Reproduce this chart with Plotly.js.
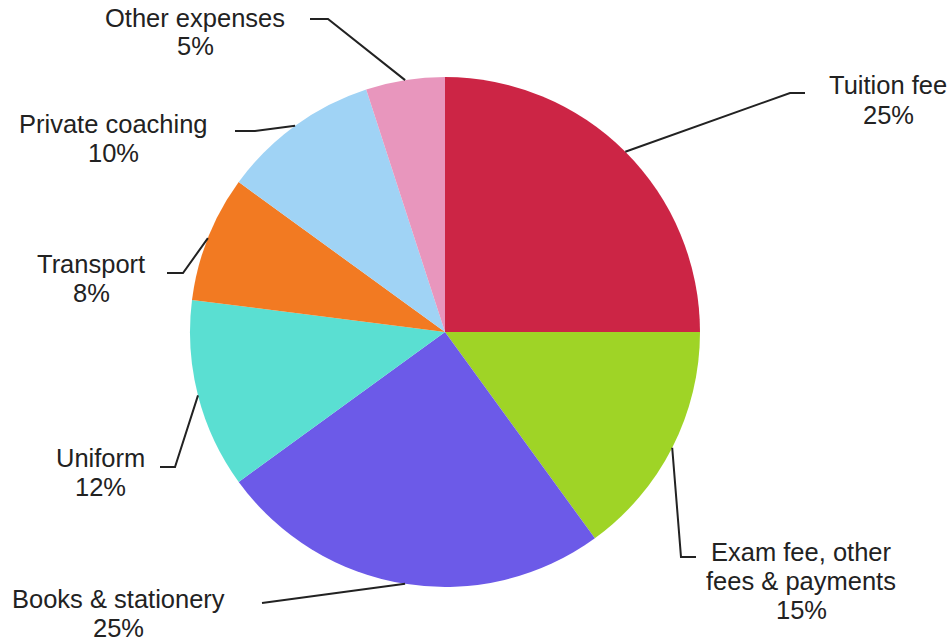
<!DOCTYPE html>
<html>
<head>
<meta charset="utf-8">
<script src="https://cdn.plot.ly/plotly-3.0.1.min.js"></script>
<style>html,body{margin:0;padding:0;background:#fff;}#chart{width:952px;height:640px;}</style>
</head>
<body>
<div id="chart"></div>
<script>
// Data
const categories = ["Tuition fee", "Exam fee, other fees & payments", "Books & stationery", "Uniform", "Transport", "Private coaching", "Other expenses"];
const labelLines = [["Tuition fee"], ["Exam fee, other", "fees & payments"], ["Books & stationery"], ["Uniform"], ["Transport"], ["Private coaching"], ["Other expenses"]];
const shares = [25, 15, 25, 12, 8, 10, 5];
const colors = ["#CC2545", "#9FD426", "#6C5AE8", "#5ADFD2", "#F27A22", "#A0D3F5", "#E896BD"];

// Layout geometry (pixels)
const W = 952, H = 640;
const CX = 445, CY = 332, R = 255;
const LINE = 29;
// label block centres and leader-line elbow/end points (layout only)
const labelPos = [[888, 100], [801, 581], [118, 613], [100, 472], [91, 278], [113, 138], [195, 32]];
const elbow = [[790, 93], [681, 557], [262, 603], [175, 467], [183, 273], [255, 131], [328, 19]];
const tail  = [[805, 93], [696, 557], null, [160, 467], [167, 273], [235, 131], [310, 19]];

const px = x => x / W;
const py = y => 1 - y / H;

const total = shares.reduce((a, b) => a + b, 0);
const shapes = [];
const annotations = [];
let cum = 0;
shares.forEach((v, i) => {
  const th = (cum + v / 2) / total * 2 * Math.PI;
  cum += v;
  const sx = CX + R * Math.sin(th), sy = CY - R * Math.cos(th);
  let path = `M ${px(sx)} ${py(sy)} L ${px(elbow[i][0])} ${py(elbow[i][1])}`;
  if (tail[i]) path += ` L ${px(tail[i][0])} ${py(tail[i][1])}`;
  shapes.push({type: 'path', xref: 'paper', yref: 'paper', path: path,
    line: {color: '#222222', width: 2}});
  const lines = labelLines[i].concat([v + '%']);
  const n = lines.length;
  lines.forEach((t, k) => {
    const y = labelPos[i][1] + (k - (n - 1) / 2) * LINE;
    annotations.push({xref: 'paper', yref: 'paper', x: px(labelPos[i][0]), y: py(y),
      xanchor: 'center', yanchor: 'middle', align: 'center', showarrow: false,
      text: t,
      font: {family: 'Liberation Sans, Arial, sans-serif', size: 25.5, color: '#222222'}});
  });
});

const trace = {
  type: 'pie',
  labels: categories,
  values: shares,
  sort: false,
  direction: 'clockwise',
  rotation: 0,
  textinfo: 'none',
  hoverinfo: 'label+percent',
  marker: {colors: colors, line: {width: 0}},
  domain: {x: [(CX - R) / W, (CX + R) / W], y: [1 - (CY + R) / H, 1 - (CY - R) / H]}
};

const layout = {
  width: W, height: H,
  margin: {l: 0, r: 0, t: 0, b: 0},
  showlegend: false,
  paper_bgcolor: '#ffffff',
  shapes: shapes,
  annotations: annotations
};

Plotly.newPlot('chart', [trace], layout, {displayModeBar: false, staticPlot: true});
</script>
</body>
</html>
